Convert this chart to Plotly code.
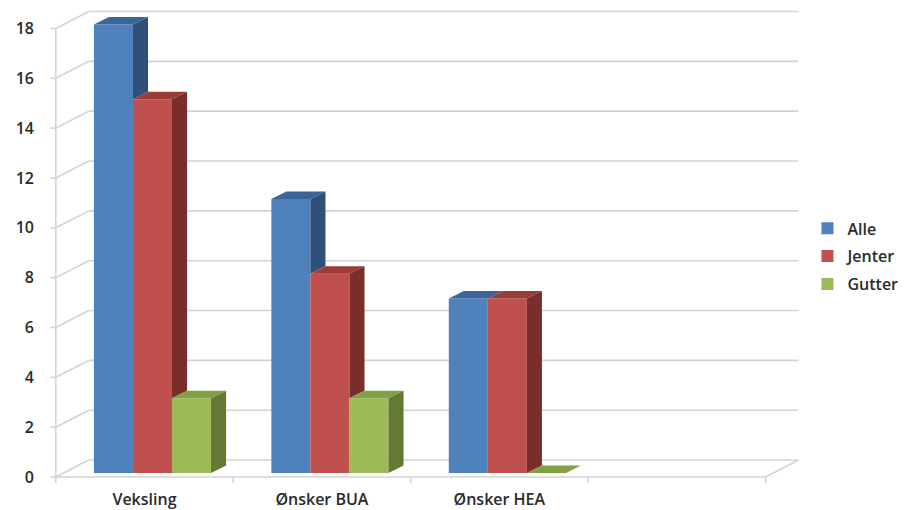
import plotly.graph_objects as go

# ---------------- data ----------------
categories = ["Veksling", "Ønsker BUA", "Ønsker HEA", ""]
series_names = ["Alle", "Jenter", "Gutter"]
alle = [18, 11, 7]
jenter = [15, 8, 7]
gutter = [3, 3, 0]
y_ticks = [0, 2, 4, 6, 8, 10, 12, 14, 16, 18]

series_values = [alle, jenter, gutter]
front_colors = ["#4f81bd", "#c0504d", "#9bbb59"]
side_colors = ["#2e5079", "#7b2d2b", "#647a34"]
top_colors = ["#3a6599", "#9a3c3a", "#80a043"]

# ---------------- pseudo-3D geometry (data units) ----------------
BAR_W = 0.22
BAR_DX, BAR_DY = 0.085, 0.30          # bar depth
FRONT_DX, FRONT_DY = -0.045, -0.16    # front plane relative to bar faces
BACK_DX, BACK_DY = 0.141, 0.52        # back wall relative to bar faces
n_cat = len(categories)
x_lo, x_hi = -0.5, n_cat - 0.5
GRID = "#d3d3d3"

fig = go.Figure()

# ---- walls / gridlines (main subplot, drawn beneath bars) ----
gx, gy = [], []
for v in y_ticks:
    gx += [x_lo + BACK_DX, x_hi + BACK_DX, None]
    gy += [v + BACK_DY, v + BACK_DY, None]
    gx += [x_lo + FRONT_DX, x_lo + BACK_DX, None]
    gy += [v + FRONT_DY, v + BACK_DY, None]
    gx += [x_lo + FRONT_DX - 0.03, x_lo + FRONT_DX, None]
    gy += [v + FRONT_DY, v + FRONT_DY, None]
gx += [x_lo + FRONT_DX, x_lo + FRONT_DX, None]
gy += [FRONT_DY, y_ticks[-1] + FRONT_DY, None]
gx += [x_lo + FRONT_DX, x_hi + FRONT_DX, x_hi + BACK_DX, None]
gy += [FRONT_DY, FRONT_DY, BACK_DY, None]
for i in range(n_cat + 1):
    xx = i - 0.5 + FRONT_DX
    gx += [xx, xx, None]
    gy += [FRONT_DY, FRONT_DY - 0.24, None]

fig.add_trace(go.Scatter(x=gx, y=gy, mode="lines", line=dict(color=GRID, width=1.6),
                         showlegend=False, hoverinfo="skip", xaxis="x", yaxis="y"))

# ---- bars (overlay subplot) ----
n_s = len(series_values)
for k, (name, vals) in enumerate(zip(series_names, series_values)):
    offset = -n_s * BAR_W / 2 + k * BAR_W
    fig.add_trace(go.Bar(
        x=list(range(len(vals))), y=vals, name=name, legendgroup=name,
        width=BAR_W, offset=offset,
        marker=dict(color=front_colors[k], line=dict(width=0)),
        xaxis="x2", yaxis="y2",
    ))
    sx, sy, tx, ty = [], [], [], []
    for i, v in enumerate(vals):
        xl = i + offset
        xr = xl + BAR_W
        vj = series_values[k + 1][i] if k + 1 < n_s else None
        if vj is not None and vj > v:
            tx += [xl, xl + BAR_DX, xr, xr, None]
            ty += [v, v + BAR_DY, v + BAR_DY, v, None]
        else:
            tx += [xl, xl + BAR_DX, xr + BAR_DX, xr, xl, None]
            ty += [v, v + BAR_DY, v + BAR_DY, v, v, None]
        bottom = max(0, vj) if vj is not None else 0
        if v > bottom:
            sx += [xr, xr + BAR_DX, xr + BAR_DX, xr, xr, None]
            sy += [bottom, bottom + BAR_DY, v + BAR_DY, v, bottom, None]
    fig.add_trace(go.Scatter(x=tx, y=ty, mode="lines", fill="toself",
                             fillcolor=top_colors[k], line=dict(width=0, color=top_colors[k]),
                             showlegend=False, hoverinfo="skip", xaxis="x2", yaxis="y2"))
    if sx:
        fig.add_trace(go.Scatter(x=sx, y=sy, mode="lines", fill="toself",
                                 fillcolor=side_colors[k], line=dict(width=0, color=side_colors[k]),
                                 showlegend=False, hoverinfo="skip", xaxis="x2", yaxis="y2"))

XR = [-0.6, 3.7]
YR = [-0.4, 18.7]
FONT = dict(family="Open Sans, Noto Sans, sans-serif", size=16, color="#2a2a2a", weight=600)

fig.update_layout(
    width=910, height=510,
    margin=dict(l=46, r=100.75, t=7.37, b=27.04, autoexpand=False),
    paper_bgcolor="white", plot_bgcolor="rgba(0,0,0,0)",
    barmode="overlay",
    font=FONT,
    showlegend=True,
    legend=dict(x=0.998, xanchor="left", y=0.476, yanchor="middle",
                font=FONT, tracegroupgap=4,
                bgcolor="rgba(0,0,0,0)", traceorder="grouped"),
    xaxis=dict(range=XR, showgrid=False, zeroline=False, showline=False, ticks="",
               tickvals=[i + FRONT_DX for i in range(n_cat)], ticktext=categories,
               ticklabelstandoff=5, automargin=False, fixedrange=True),
    yaxis=dict(range=YR, showgrid=False, zeroline=False, showline=False, ticks="",
               tickvals=[v + FRONT_DY for v in y_ticks], ticktext=[str(v) for v in y_ticks],
               ticklabelstandoff=11, automargin=False, fixedrange=True),
    xaxis2=dict(range=XR, overlaying="x", visible=False, fixedrange=True),
    yaxis2=dict(range=YR, overlaying="y", visible=False, fixedrange=True),
)

fig.write_html("out.html")
